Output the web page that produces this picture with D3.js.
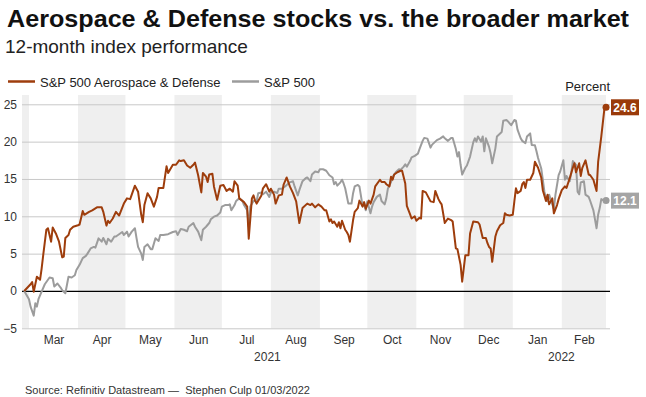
<!DOCTYPE html>
<html>
<head>
<meta charset="utf-8">
<script src="https://cdn.jsdelivr.net/npm/d3@7"></script>
<style>
  body { margin: 0; background: #fff; }
  svg { display: block; font-family: "Liberation Sans", Arial, sans-serif; }
</style>
</head>
<body>
<svg id="chart" width="646" height="397"></svg>
<script>
// ---- data ----
var seriesNames = ['S&P 500 Aerospace & Defense', 'S&P 500'];
var seriesColors = ['#9e3d0c', '#9c9c9c'];
var labelColors = ['#9a3a0a', '#a5a5a5'];

var aeroDates = [
  '2021-02-26','2021-03-02','2021-03-03','2021-03-04','2021-03-06','2021-03-08','2021-03-09','2021-03-10','2021-03-12','2021-03-13',
  '2021-03-15','2021-03-16','2021-03-18','2021-03-20','2021-03-22','2021-03-23','2021-03-24','2021-03-26','2021-03-27','2021-03-29',
  '2021-04-01','2021-04-02','2021-04-04','2021-04-05','2021-04-08','2021-04-10','2021-04-13','2021-04-16','2021-04-17','2021-04-19',
  '2021-04-20','2021-04-21','2021-04-23','2021-04-25','2021-04-27','2021-04-30','2021-05-02','2021-05-04','2021-05-07','2021-05-09',
  '2021-05-11','2021-05-12','2021-05-13','2021-05-15','2021-05-17','2021-05-19','2021-05-21','2021-05-22','2021-05-25','2021-05-27',
  '2021-05-28','2021-05-31','2021-06-02','2021-06-04','2021-06-05','2021-06-07','2021-06-09','2021-06-11','2021-06-13','2021-06-14',
  '2021-06-16','2021-06-18','2021-06-19','2021-06-21','2021-06-22','2021-06-23','2021-06-25','2021-06-26','2021-06-28','2021-06-30',
  '2021-07-02','2021-07-04','2021-07-06','2021-07-08','2021-07-09','2021-07-11','2021-07-12','2021-07-15','2021-07-17','2021-07-18',
  '2021-07-20','2021-07-21','2021-07-22','2021-07-23','2021-07-26','2021-07-27','2021-07-29','2021-07-31','2021-08-01','2021-08-03',
  '2021-08-04','2021-08-06','2021-08-08','2021-08-09','2021-08-11','2021-08-13','2021-08-15','2021-08-17','2021-08-19','2021-08-21',
  '2021-08-24','2021-08-26','2021-08-27','2021-08-29','2021-08-31','2021-09-02','2021-09-04','2021-09-05','2021-09-07','2021-09-08',
  '2021-09-09','2021-09-10','2021-09-12','2021-09-13','2021-09-14','2021-09-15','2021-09-17','2021-09-18','2021-09-19','2021-09-20',
  '2021-09-22','2021-09-23','2021-09-25','2021-09-26','2021-09-28','2021-09-29','2021-09-30','2021-10-02','2021-10-03','2021-10-05',
  '2021-10-06','2021-10-09','2021-10-10','2021-10-12','2021-10-13','2021-10-15','2021-10-16','2021-10-17','2021-10-18','2021-10-20',
  '2021-10-22','2021-10-23','2021-10-25','2021-10-26','2021-10-28','2021-10-29','2021-10-31','2021-11-01','2021-11-03','2021-11-04',
  '2021-11-05','2021-11-07','2021-11-08','2021-11-10','2021-11-12','2021-11-13','2021-11-15','2021-11-16','2021-11-17','2021-11-19',
  '2021-11-21','2021-11-23','2021-11-24','2021-11-26','2021-11-27','2021-11-29','2021-11-30','2021-12-02','2021-12-04','2021-12-05',
  '2021-12-07','2021-12-10','2021-12-11','2021-12-13','2021-12-15','2021-12-16','2021-12-17','2021-12-18','2021-12-19','2021-12-21',
  '2021-12-22','2021-12-24','2021-12-26','2021-12-27','2021-12-28','2021-12-30','2022-01-01','2022-01-02','2022-01-03','2022-01-04',
  '2022-01-06','2022-01-07','2022-01-08','2022-01-09','2022-01-10','2022-01-12','2022-01-14','2022-01-15','2022-01-17','2022-01-19',
  '2022-01-20','2022-01-22','2022-01-23','2022-01-24','2022-01-26','2022-01-27','2022-01-29','2022-01-30','2022-02-01','2022-02-03',
  '2022-02-04','2022-02-06','2022-02-08','2022-02-09','2022-02-10','2022-02-12','2022-02-13','2022-02-14','2022-02-16','2022-02-18',
  '2022-02-19','2022-02-21','2022-02-23','2022-02-24','2022-02-26','2022-02-28','2022-03-01'
];
var aeroValues = [
  0, 0.9, 1.2, -0.1, 1.9, 1.5, 3.0, 4.8, 8.2, 8.4,
  6.6, 8.5, 7.7, 6.6, 4.5, 4.6, 7.1, 7.5, 8.2, 8.6,
  8.8, 8.9, 10.7, 10.2, 10.6, 10.8, 11.2, 11.2, 10.6, 8.75,
  9.4, 9.1, 9.7, 10.6, 10.1, 11.7, 12.4, 12.3, 14.1, 13.3,
  10.2, 9.2, 11.5, 13.1, 12.4, 11.3, 12.6, 13.8, 13.8, 16.7,
  15.8, 16.9, 16.9, 17.5, 17.4, 17.5, 16.8, 16.5, 16.9, 17.2,
  15.5, 13.2, 15.8, 15.3, 14.6, 15.6, 15.7, 14.0, 12.2, 14.1,
  14.2, 13.4, 13.7, 13.3, 14.7, 14.1, 12.4, 11.9, 11.3, 7.0,
  12.4, 12.8, 12.1, 11.7, 12.8, 13.75, 14.3, 13.3, 13.7, 12.9,
  11.7, 12.8, 12.9, 14.2, 15.2, 14.0, 13.1, 12.0, 9.1, 11.1,
  11.7, 11.5, 11.7, 11.2, 11.6, 11.3, 10.8, 10.8, 9.3, 9.6,
  9.1, 9.3, 8.6, 9.2, 8.4, 9.4, 8.2, 7.9, 7.5, 6.6,
  9.5, 10.6, 11.1, 12.1, 11.3, 11.9, 11.0, 12.1, 11.7, 12.9,
  14.0, 14.9, 14.6, 14.6, 14.3, 14.0, 15.3, 14.9, 15.6, 15.9,
  16.1, 16.1, 14.4, 11.4, 10.3, 9.7, 10.0, 9.4, 9.8, 9.7,
  13.4, 13.2, 12.8, 12.0, 11.9, 13.4, 12.3, 11.9, 11.6, 9.1,
  9.7, 9.5, 9.3, 5.7, 5.6, 3.5, 1.25, 4.8, 4.8, 7.7,
  9.3, 9.2, 8.9, 7.1, 7.1, 6.4, 5.9, 5.7, 3.9, 7.3,
  8.0, 8.8, 9.1, 10.4, 10.2, 10.1, 10.2, 12.0, 13.75, 13.1,
  13.4, 14.3, 14.6, 13.8, 14.9, 14.9, 15.8, 17.3, 16.5, 15.2,
  13.5, 12.05, 12.9, 11.6, 12.4, 10.4, 11.5, 12.3, 13.5, 14.0,
  13.8, 15.1, 16.5, 17.1, 15.9, 17.1, 15.4, 16.5, 17.5, 15.6,
  15.5, 14.9, 13.4, 17.3, 20.7, 24.5, 24.6
];

var spxDates = [
  '2021-02-26','2021-03-01','2021-03-02','2021-03-04','2021-03-05','2021-03-06','2021-03-07','2021-03-09','2021-03-11','2021-03-13',
  '2021-03-14','2021-03-16','2021-03-17','2021-03-19','2021-03-21','2021-03-22','2021-03-24','2021-03-25','2021-03-26','2021-03-28',
  '2021-03-30','2021-03-31','2021-04-02','2021-04-04','2021-04-06','2021-04-07','2021-04-09','2021-04-11','2021-04-12','2021-04-14',
  '2021-04-16','2021-04-17','2021-04-19','2021-04-20','2021-04-22','2021-04-24','2021-04-25','2021-04-27','2021-04-29','2021-04-30',
  '2021-05-02','2021-05-03','2021-05-05','2021-05-07','2021-05-08','2021-05-09','2021-05-11','2021-05-12','2021-05-13','2021-05-15',
  '2021-05-17','2021-05-18','2021-05-20','2021-05-22','2021-05-23','2021-05-25','2021-05-28','2021-05-31','2021-06-02','2021-06-03',
  '2021-06-05','2021-06-07','2021-06-09','2021-06-10','2021-06-13','2021-06-14','2021-06-16','2021-06-18','2021-06-19','2021-06-21',
  '2021-06-23','2021-06-24','2021-06-26','2021-06-28','2021-06-30','2021-07-01','2021-07-03','2021-07-05','2021-07-06','2021-07-07',
  '2021-07-09','2021-07-10','2021-07-12','2021-07-14','2021-07-15','2021-07-17','2021-07-18','2021-07-19','2021-07-21','2021-07-23',
  '2021-07-24','2021-07-26','2021-07-27','2021-07-29','2021-07-31','2021-08-01','2021-08-03','2021-08-05','2021-08-06','2021-08-08',
  '2021-08-10','2021-08-11','2021-08-13','2021-08-15','2021-08-16','2021-08-18','2021-08-19','2021-08-21','2021-08-23','2021-08-24',
  '2021-08-26','2021-08-27','2021-08-29','2021-08-31','2021-09-01','2021-09-03','2021-09-05','2021-09-07','2021-09-09','2021-09-10',
  '2021-09-11','2021-09-12','2021-09-14','2021-09-15','2021-09-16','2021-09-17','2021-09-19','2021-09-21','2021-09-22','2021-09-23',
  '2021-09-25','2021-09-26','2021-09-28','2021-09-29','2021-09-30','2021-10-01','2021-10-03','2021-10-04','2021-10-05','2021-10-07',
  '2021-10-09','2021-10-10','2021-10-12','2021-10-13','2021-10-14','2021-10-16','2021-10-17','2021-10-19','2021-10-21','2021-10-22',
  '2021-10-24','2021-10-25','2021-10-26','2021-10-28','2021-10-29','2021-10-31','2021-11-02','2021-11-03','2021-11-05','2021-11-06',
  '2021-11-08','2021-11-10','2021-11-11','2021-11-13','2021-11-14','2021-11-16','2021-11-18','2021-11-19','2021-11-21','2021-11-23',
  '2021-11-24','2021-11-26','2021-11-27','2021-11-28','2021-11-29','2021-11-30','2021-12-02','2021-12-03','2021-12-05','2021-12-07',
  '2021-12-08','2021-12-09','2021-12-10','2021-12-12','2021-12-13','2021-12-14','2021-12-15','2021-12-17','2021-12-18','2021-12-19',
  '2021-12-21','2021-12-22','2021-12-24','2021-12-25','2021-12-26','2021-12-28','2021-12-29','2021-12-30','2021-12-31','2022-01-02',
  '2022-01-03','2022-01-04','2022-01-06','2022-01-07','2022-01-09','2022-01-10','2022-01-12','2022-01-13','2022-01-15','2022-01-16',
  '2022-01-17','2022-01-19','2022-01-20','2022-01-21','2022-01-22','2022-01-23','2022-01-24','2022-01-26','2022-01-27','2022-01-28',
  '2022-01-30','2022-01-31','2022-02-02','2022-02-03','2022-02-04','2022-02-06','2022-02-07','2022-02-08','2022-02-10','2022-02-11',
  '2022-02-12','2022-02-13','2022-02-15','2022-02-16','2022-02-18','2022-02-19','2022-02-21','2022-02-23','2022-02-24','2022-02-25',
  '2022-02-26','2022-02-28','2022-03-01'
];
var spxValues = [
  0, -1.1, -2.1, -3.3, -1.65, -2.1, -1.1, -0.1, 0.9, 1.5,
  1.8, 1.7, 0.6, 1.0, 0.45, 0.1, -0.3, 0.8, 1.9, 1.8,
  2.1, 2.8, 3.5, 4.4, 4.7, 5.0, 5.7, 5.9, 5.8, 7.05,
  6.6, 7.1, 6.25, 7.0, 6.6, 7.3, 7.3, 7.6, 7.9, 7.5,
  7.95, 7.3, 7.95, 8.4, 7.1, 5.9, 5.0, 4.15, 5.9, 6.25,
  5.6, 5.6, 7.05, 6.7, 7.5, 7.5, 7.6, 7.9, 8.0, 7.5,
  8.3, 8.2, 8.0, 8.6, 9.1, 8.6, 7.95, 6.8, 8.2, 8.6,
  9.1, 9.6, 9.95, 10.1, 10.5, 11.3, 11.5, 11.5, 11.6, 10.8,
  11.5, 12.05, 12.4, 12.05, 11.5, 10.8, 8.6, 11.3, 12.05, 12.05,
  13.1, 13.2, 12.95, 13.3, 12.6, 13.2, 13.3, 13.1, 13.7, 13.7,
  14.0, 14.2, 14.55, 14.7, 14.0, 12.8, 13.5, 14.7, 15.1, 15.2,
  14.7, 15.6, 16.0, 15.9, 16.3, 16.3, 16.1, 15.5, 15.2, 14.3,
  14.6, 14.1, 14.55, 14.9, 14.4, 13.75, 11.7, 11.7, 13.1, 14.0,
  14.2, 14.0, 11.4, 11.7, 10.8, 12.0, 10.4, 11.3, 11.9, 12.6,
  12.9, 12.05, 11.6, 12.4, 13.7, 14.6, 15.3, 15.9, 16.3, 16.2,
  16.65, 16.95, 16.65, 17.4, 17.9, 18.1, 18.4, 19.0, 20.1, 20.5,
  20.4, 19.2, 19.6, 20.0, 20.2, 20.4, 20.7, 20.45, 20.1, 20.5,
  20.5, 19.0, 18.0, 18.6, 16.9, 15.6, 16.5, 16.8, 18.0, 19.9,
  20.45, 20.0, 20.7, 20.0, 20.7, 18.7, 20.45, 19.3, 18.4, 17.1,
  19.1, 20.7, 21.1, 21.3, 22.8, 22.9, 22.7, 22.45, 22.2, 22.9,
  22.8, 21.6, 20.45, 20.1, 19.8, 20.7, 21.1, 19.55, 19.5, 18.7,
  17.8, 16.4, 14.9, 13.3, 12.4, 12.0, 12.9, 11.6, 11.0, 12.9,
  15.5, 16.0, 17.5, 14.9, 15.4, 14.7, 15.8, 17.4, 16.9, 13.3,
  12.95, 14.55, 14.7, 12.9, 12.6, 12.05, 10.8, 8.4, 10.2, 11.1,
  12.3, 12.05, 12.1
];

var yTicks = [-5, 0, 5, 10, 15, 20, 25];
var monthLabels = ['Mar', 'Apr', 'May', 'Jun', 'Jul', 'Aug', 'Sep', 'Oct', 'Nov', 'Dec', 'Jan', 'Feb'];
var yearLabels = ['2021', '2022'];
var titleText = 'Aerospace & Defense stocks vs. the broader market';
var subtitleText = '12-month index performance';
var unitText = 'Percent';
var sourceText = 'Source: Refinitiv Datastream \u2014  Stephen Culp 01/03/2022';

// ---- chart ----
var parse = d3.timeParse('%Y-%m-%d');
var fmt = d3.format('.1f');

function zipSeries(dates, values) {
  return dates.map(function(d, i) { return { date: parse(d), value: values[i] }; });
}
var series = [zipSeries(aeroDates, aeroValues), zipSeries(spxDates, spxValues)];

// plot box (note: `top` is reserved on window, so use other names)
var plotLeft = 22, plotRight = 610, plotTop = 95, plotBottom = 328.3;

var x = d3.scaleTime()
  .domain([new Date(2021, 1, 24, 14), new Date(2022, 2, 3, 12)])
  .range([plotLeft, plotRight]);
var y = d3.scaleLinear().domain([-5, 25]).range([plotBottom, 104.3]);

var svg = d3.select('#chart');

// Shaded every-other-month bands
var months = d3.timeMonth.range(new Date(2021, 1, 1), new Date(2022, 2, 1));
var bandMonths = months.filter(function(m) { return m.getMonth() % 2 === 1; });
svg.append('g').selectAll('rect').data(bandMonths).join('rect')
  .attr('x', function(d) { return Math.max(x(d), plotLeft); })
  .attr('width', function(d) {
    return Math.min(x(d3.timeMonth.offset(d, 1)), plotRight) - Math.max(x(d), plotLeft);
  })
  .attr('y', plotTop).attr('height', plotBottom - plotTop)
  .attr('fill', '#efefef');

// Y grid + labels
var yAxis = svg.append('g')
  .attr('transform', 'translate(' + plotLeft + ',0)')
  .call(d3.axisLeft(y).tickValues(yTicks).tickSize(-(plotRight - plotLeft)).tickPadding(5));
yAxis.select('.domain').remove();
yAxis.selectAll('line').attr('stroke', function(d) { return d === 0 ? '#000' : '#c8c8c8'; })
  .attr('stroke-width', function(d) { return d === 0 ? 1.2 : 1; });
yAxis.selectAll('text').attr('fill', '#333').style('font-size', '12px')
  .style('font-family', '"Liberation Sans", Arial, sans-serif');

// X month labels centred in each month
var labelMonths = d3.timeMonth.range(new Date(2021, 2, 1), new Date(2022, 2, 1));
var midMonths = labelMonths.map(function(m) {
  return new Date((m.getTime() + d3.timeMonth.offset(m, 1).getTime()) / 2);
});
var xAxis = svg.append('g')
  .attr('transform', 'translate(0,' + (plotBottom + 1) + ')')
  .call(d3.axisBottom(x).tickValues(midMonths).tickSize(0).tickPadding(6)
    .tickFormat(function(d, i) { return monthLabels[i]; }));
xAxis.select('.domain').remove();
xAxis.selectAll('text').attr('fill', '#333').style('font-size', '12px')
  .style('font-family', '"Liberation Sans", Arial, sans-serif');

// Year labels, centred on each year's part of the axis
var yearStart = new Date(2022, 0, 1);
var yearSpans = [[x.domain()[0], yearStart], [yearStart, x.domain()[1]]];
svg.append('g').selectAll('text').data(yearSpans).join('text')
  .attr('x', function(d) { return (x(d[0]) + x(d[1])) / 2; })
  .attr('y', 361)
  .attr('text-anchor', 'middle')
  .attr('fill', '#333').style('font-size', '12px')
  .text(function(d, i) { return yearLabels[i]; });

// Lines (S&P 500 underneath)
var line = d3.line()
  .x(function(d) { return x(d.date); })
  .y(function(d) { return y(d.value); })
  .curve(d3.curveLinear);

[1, 0].forEach(function(k) {
  svg.append('path').datum(series[k])
    .attr('fill', 'none')
    .attr('stroke', seriesColors[k])
    .attr('stroke-width', 2)
    .attr('stroke-linejoin', 'round')
    .attr('d', line);
});

// End dots and value tags
series.forEach(function(s, k) {
  var last = s[s.length - 1];
  svg.append('circle')
    .attr('cx', x(last.date)).attr('cy', y(last.value)).attr('r', 3.5)
    .attr('fill', seriesColors[k]);
  svg.append('rect')
    .attr('x', 611).attr('y', y(last.value) - 8)
    .attr('width', 28).attr('height', 16)
    .attr('fill', labelColors[k]);
  svg.append('text')
    .attr('x', 625).attr('y', y(last.value) + 4.5)
    .attr('text-anchor', 'middle')
    .attr('fill', '#fff').style('font-size', '12px').style('font-weight', 'bold')
    .text(fmt(last.value));
});

// Titles
svg.append('text').attr('x', 7).attr('y', 27)
  .style('font-size', '24px').style('font-weight', 'bold').attr('fill', '#111')
  .attr('textLength', 622).attr('lengthAdjust', 'spacingAndGlyphs')
  .text(titleText);
svg.append('text').attr('x', 5).attr('y', 53)
  .style('font-size', '19px').attr('fill', '#222')
  .text(subtitleText);

// Legend
var legend = svg.append('g');
var legendX = [8, 232];
seriesNames.forEach(function(name, k) {
  legend.append('line')
    .attr('x1', legendX[k]).attr('x2', legendX[k] + 27)
    .attr('y1', 81.5).attr('y2', 81.5)
    .attr('stroke', seriesColors[k]).attr('stroke-width', 2.5);
  legend.append('text')
    .attr('x', legendX[k] + 32).attr('y', 87)
    .style('font-size', '13px').attr('fill', '#222')
    .text(name);
});

svg.append('text').attr('x', 610).attr('y', 91)
  .attr('text-anchor', 'end').style('font-size', '13px').attr('fill', '#222')
  .text(unitText);

svg.append('text').attr('x', 25).attr('y', 394)
  .style('font-size', '11px').style('white-space', 'pre').attr('fill', '#333')
  .text(sourceText);
</script>
</body>
</html>
